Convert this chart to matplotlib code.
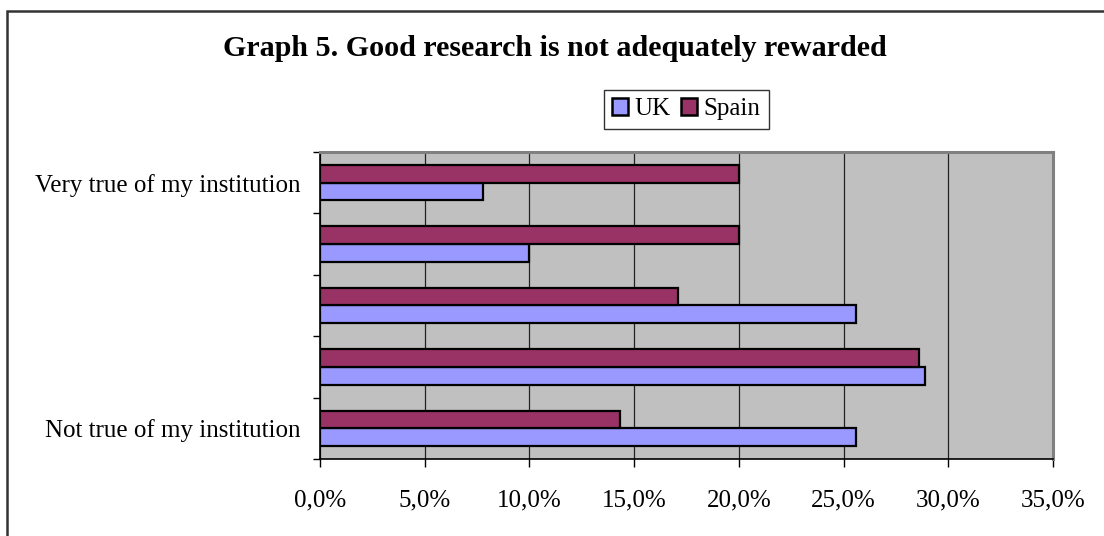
import matplotlib.pyplot as plt
from matplotlib.patches import Rectangle, Patch
from matplotlib.ticker import FuncFormatter, MultipleLocator

plt.rcParams['font.family'] = 'Liberation Serif'

categories = ["Not true of my institution", "", "", "", "Very true of my institution"]
uk = [25.6, 28.9, 25.6, 10.0, 7.8]
spain = [14.3, 28.6, 17.1, 20.0, 20.0]

uk_color = "#9999FF"
spain_color = "#993366"

fig = plt.figure(figsize=(11.04, 5.36), dpi=100)
ax = fig.add_axes([0.2899, 0.1437, 0.6639, 0.5727])
ax.set_facecolor("#C0C0C0")

pos = list(range(len(categories)))
h = 0.287
ax.barh([p - h / 2 for p in pos], uk, height=h, color=uk_color,
        edgecolor="black", linewidth=1.6, zorder=3)
ax.barh([p + h / 2 for p in pos], spain, height=h, color=spain_color,
        edgecolor="black", linewidth=1.6, zorder=3)

ax.set_xlim(0, 35)
ax.set_ylim(-0.5, 4.5)

# vertical gridlines every 5%
ax.xaxis.set_major_locator(MultipleLocator(5))
ax.xaxis.set_major_formatter(FuncFormatter(lambda v, _: f"{v:.1f}%".replace(".", ",")))
ax.grid(axis="x", color="#222222", linewidth=0.9, zorder=1)

# category boundaries as ticks, labels sit at band centres
ax.set_yticks([p + 0.5 for p in [-1] + pos])
ax.set_yticklabels([])
ax.set_yticks(pos, minor=True)
ax.set_yticklabels(categories, minor=True)
ax.tick_params(axis="y", which="major", length=5, width=1, direction="out")
ax.tick_params(axis="y", which="minor", length=0, pad=14, labelsize=18)
ax.tick_params(axis="x", length=6, width=1, direction="out", pad=16, labelsize=18)

for side in ("top", "right"):
    ax.spines[side].set_color("#808080")
    ax.spines[side].set_linewidth(2.2)
for side in ("left", "bottom"):
    ax.spines[side].set_color("black")
    ax.spines[side].set_linewidth(1.2)

fig.text(0.503, 0.910, "Graph 5. Good research is not adequately rewarded",
         ha="center", va="center", fontsize=21.6, fontweight="bold")

handles = [Patch(facecolor=uk_color, edgecolor="black", linewidth=1.8, label="UK"),
           Patch(facecolor=spain_color, edgecolor="black", linewidth=1.8, label="Spain")]
leg = fig.legend(handles=handles, loc="center", bbox_to_anchor=(0.6216, 0.796),
                 ncol=2, fontsize=18, frameon=True, fancybox=False,
                 handlelength=0.62, handleheight=0.62, handletextpad=0.25,
                 columnspacing=0.45, borderpad=0.35, borderaxespad=0)
leg.get_frame().set_edgecolor("black")
leg.get_frame().set_linewidth(1.0)

# outer chart border
fig.patches.append(Rectangle((7 / 1104, -0.05), 1.1, (536 - 11) / 536 + 0.05,
                             transform=fig.transFigure, fill=False,
                             edgecolor="#333333", linewidth=1.8))

fig.savefig("out.png", dpi=100)
